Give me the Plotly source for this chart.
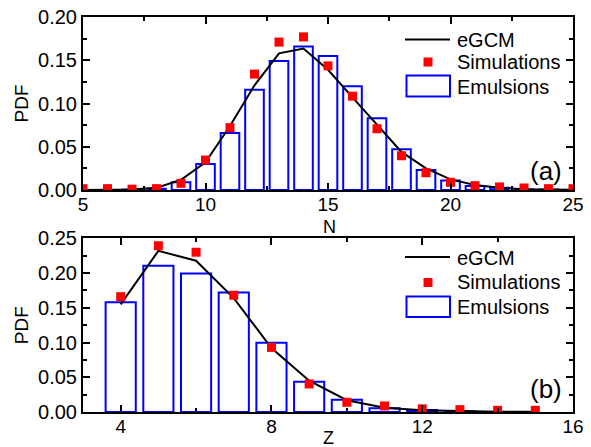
import plotly.graph_objects as go
from plotly.subplots import make_subplots

# ---------------- data: panel (a), neutron number N ----------------
n_emul = [7, 8, 9, 10, 11, 12, 13, 14, 15, 16, 17, 18, 19, 20, 21, 22, 23, 24]
pdf_emul_a = [0.0005, 0.0015, 0.009, 0.030, 0.066, 0.116, 0.149, 0.166, 0.155,
              0.120, 0.083, 0.047, 0.023, 0.011, 0.0045, 0.0025, 0.0008, 0.0005]

n_sim = [5, 6, 7, 8, 9, 10, 11, 12, 13, 14, 15, 16, 17, 18, 19, 20, 21, 22, 23, 24, 25]
pdf_sim_a = [0.0015, 0.0015, 0.001, 0.0015, 0.0077, 0.0346, 0.072, 0.134, 0.171,
             0.177, 0.1435, 0.1085, 0.0708, 0.0396, 0.020, 0.0089, 0.005, 0.0035,
             0.0023, 0.0015, 0.0015]

n_egcm = [5, 6, 7, 8, 9, 10, 11, 12, 13, 14, 15, 16, 17, 18, 19, 20, 21, 22, 23, 24, 25]
pdf_egcm_a = [0.0, 0.0001, 0.0005, 0.0025, 0.0118, 0.032, 0.074, 0.121, 0.158,
              0.1636, 0.139, 0.107, 0.075, 0.044, 0.025, 0.0123, 0.0058, 0.0025,
              0.001, 0.0005, 0.0002]

# ---------------- data: panel (b), charge number Z ----------------
z_emul = [4, 5, 6, 7, 8, 9, 10, 11, 12, 13]
pdf_emul_b = [0.158, 0.2105, 0.1995, 0.172, 0.0995, 0.0435, 0.0175, 0.0055, 0.003, 0.001]

z_sim = [4, 5, 6, 7, 8, 9, 10, 11, 12, 13, 14, 15]
pdf_sim_b = [0.166, 0.2394, 0.230, 0.168, 0.093, 0.0404, 0.014, 0.0087, 0.0045,
             0.0034, 0.0024, 0.0024]

z_egcm = [4, 5, 6, 7, 8, 9, 10, 11, 12, 13, 14, 15]
pdf_egcm_b = [0.155, 0.232, 0.2177, 0.164, 0.092, 0.045, 0.017, 0.006, 0.0024,
              0.001, 0.0004, 0.0002]

x_ticks_a = [5, 10, 15, 20, 25]
x_ticks_b = [4, 8, 12, 16]
y_ticks_a = [0.00, 0.05, 0.10, 0.15, 0.20]
y_ticks_b = [0.00, 0.05, 0.10, 0.15, 0.20, 0.25]

legend_names = ["eGCM", "Simulations", "Emulsions"]
x_title_a, x_title_b, y_title = "N", "Z", "PDF"

# ---------------- style ----------------
BLUE = "#0000FF"
RED = "#FF0000"
FONT = "Arial, Liberation Sans, sans-serif"
W, H = 591, 447
ML, MR, MT, MB = 83, 18, 17, 35
PW, PH = W - ML - MR, H - MT - MB


def px_x(px):
    return (px - ML) / PW


def px_y(py):
    return 1 - (py - MT) / PH


fig = make_subplots(rows=2, cols=1, vertical_spacing=0.0)

# panel (a)
fig.add_trace(go.Bar(x=n_emul, y=pdf_emul_a, width=0.76,
                     marker=dict(color="rgba(0,0,0,0)", line=dict(color=BLUE, width=2)),
                     showlegend=False), row=1, col=1)
fig.add_trace(go.Scatter(x=n_egcm, y=pdf_egcm_a, mode="lines",
                         line=dict(color="black", width=2), showlegend=False), row=1, col=1)
fig.add_trace(go.Scatter(x=n_sim, y=pdf_sim_a, mode="markers",
                         marker=dict(symbol="square", size=9, color=RED),
                         showlegend=False), row=1, col=1)

# panel (b)
fig.add_trace(go.Bar(x=z_emul, y=pdf_emul_b, width=0.8,
                     marker=dict(color="rgba(0,0,0,0)", line=dict(color=BLUE, width=2)),
                     showlegend=False), row=2, col=1)
fig.add_trace(go.Scatter(x=z_egcm, y=pdf_egcm_b, mode="lines",
                         line=dict(color="black", width=2), showlegend=False), row=2, col=1)
fig.add_trace(go.Scatter(x=z_sim, y=pdf_sim_b, mode="markers",
                         marker=dict(symbol="square", size=9, color=RED),
                         showlegend=False), row=2, col=1)

axis_common = dict(showline=True, linecolor="black", linewidth=2, mirror="allticks",
                   ticks="inside", ticklen=7, tickwidth=1.5, tickcolor="black",
                   showgrid=False, zeroline=False, automargin=False,
                   tickfont=dict(family=FONT, size=20, color="black"))

fig.update_xaxes(axis_common)
fig.update_yaxes(axis_common)
fig.update_xaxes(ticklabelstandoff=-4, tickfont=dict(family=FONT, size=19, color="black"))

fig.update_xaxes(range=[5, 25], tickvals=x_ticks_a,
                 minor=dict(dtick=2.5, tick0=5, ticks="inside", ticklen=4,
                            tickwidth=1.5, tickcolor="black"),
                 row=1, col=1)
fig.update_xaxes(range=[3, 16], tickvals=x_ticks_b,
                 minor=dict(dtick=2, tick0=4, ticks="inside", ticklen=4,
                            tickwidth=1.5, tickcolor="black"),
                 row=2, col=1)
fig.update_yaxes(range=[0, 0.2], tickvals=y_ticks_a, tickformat=".2f",
                 minor=dict(dtick=0.025, tick0=0, ticks="inside", ticklen=4,
                            tickwidth=1.5, tickcolor="black"),
                 title=dict(text=y_title, standoff=4, font=dict(family=FONT, size=19, color="black")),
                 domain=[px_y(190), 1.0], row=1, col=1)
fig.update_yaxes(range=[0, 0.25], tickvals=y_ticks_b, tickformat=".2f",
                 minor=dict(dtick=0.025, tick0=0, ticks="inside", ticklen=4,
                            tickwidth=1.5, tickcolor="black"),
                 title=dict(text=y_title, standoff=4, font=dict(family=FONT, size=19, color="black")),
                 domain=[0.0, px_y(238.3)], row=2, col=1)

# ---------------- hand-drawn legends, axis titles and panel labels ----------------
shapes = []
annots = []
legend_rows = [
    dict(line_y=39.5, mk_y=62, rect=(75.5, 96.5), text_y=[40, 62, 87]),
    dict(line_y=257, mk_y=282.5, rect=(296.5, 317), text_y=[258, 282, 307]),
]
for lg in legend_rows:
    shapes.append(dict(type="line", xref="paper", yref="paper",
                       x0=px_x(405), x1=px_x(450), y0=px_y(lg["line_y"]), y1=px_y(lg["line_y"]),
                       line=dict(color="black", width=2)))
    shapes.append(dict(type="rect", xref="paper", yref="paper",
                       x0=px_x(423.5), x1=px_x(432.5), y0=px_y(lg["mk_y"] - 4.5), y1=px_y(lg["mk_y"] + 4.5),
                       fillcolor=RED, line=dict(width=0)))
    shapes.append(dict(type="rect", xref="paper", yref="paper",
                       x0=px_x(406.5), x1=px_x(450), y0=px_y(lg["rect"][0]), y1=px_y(lg["rect"][1]),
                       fillcolor="rgba(0,0,0,0)", line=dict(color=BLUE, width=2)))
    for name, ty in zip(legend_names, lg["text_y"]):
        annots.append(dict(text=name, xref="paper", yref="paper", x=px_x(455), y=px_y(ty),
                           xanchor="left", yanchor="middle", showarrow=False,
                           font=dict(family=FONT, size=20, color="black")))

annots.append(dict(text=x_title_a, xref="paper", yref="paper", x=px_x(329), y=px_y(227.5),
                   xanchor="center", yanchor="middle", showarrow=False,
                   font=dict(family=FONT, size=18, color="black")))
annots.append(dict(text=x_title_b, xref="paper", yref="paper", x=px_x(328), y=px_y(438),
                   xanchor="center", yanchor="middle", showarrow=False,
                   font=dict(family=FONT, size=18, color="black")))
annots.append(dict(text="(a)", xref="paper", yref="paper", x=px_x(546), y=px_y(171),
                   xanchor="center", yanchor="middle", showarrow=False,
                   font=dict(family=FONT, size=26, color="black")))
annots.append(dict(text="(b)", xref="paper", yref="paper", x=px_x(546), y=px_y(389),
                   xanchor="center", yanchor="middle", showarrow=False,
                   font=dict(family=FONT, size=26, color="black")))

fig.update_layout(width=W, height=H, margin=dict(l=ML, r=MR, t=MT, b=MB, autoexpand=False),
                  paper_bgcolor="white", plot_bgcolor="white",
                  showlegend=False, shapes=shapes, annotations=annots,
                  font=dict(family=FONT, color="black"))

fig.write_html("out.html", config={"displayModeBar": False},
               post_script="document.body.style.margin='0px';document.body.style.overflow='hidden';")
